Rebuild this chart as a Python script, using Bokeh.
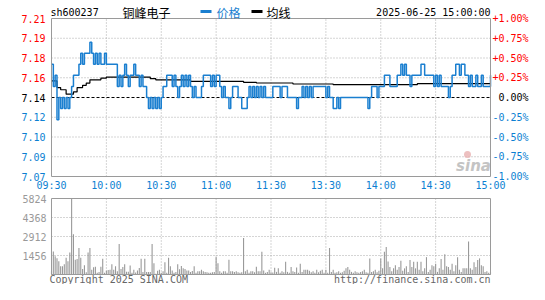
from bokeh.plotting import figure
from bokeh.models import Range1d
from bokeh.layouts import column
from bokeh.embed import file_html
from bokeh.resources import INLINE
from bokeh.core.properties import value
import numpy as np

# ---------------- data ----------------
CODE = "sh600237"
NAME = "铜峰电子"
DATETIME = "2025-06-25 15:00:00"
LEGEND_PRICE = "价格"
LEGEND_AVG = "均线"
PREV_CLOSE = 7.14

TIME_TICKS = [0, 30, 60, 90, 120, 150, 180, 210, 240]
TIME_LABELS = ["09:30", "10:00", "10:30", "11:00", "11:30", "13:30", "14:00", "14:30", "15:00"]

PCT_STEPS = [-4, -3, -2, -1, 0, 1, 2, 3, 4]          # multiples of 0.25 %
PRICE_TICK_LABELS = ["7.07", "7.09", "7.10", "7.12", "7.14", "7.16", "7.18", "7.19", "7.21"]
PCT_TICK_LABELS = ["-1.00%", "-0.75%", "-0.50%", "-0.25%", "0.00%", "+0.25%", "+0.50%", "+0.75%", "+1.00%"]

PRICE = [
    7.17, 7.15, 7.16, 7.12, 7.14, 7.13, 7.14, 7.13, 7.14, 7.13,
    7.14, 7.15, 7.16, 7.16, 7.16, 7.17, 7.18, 7.17, 7.18, 7.18,
    7.18, 7.19, 7.18, 7.17, 7.18, 7.17, 7.18, 7.17, 7.17, 7.18,
    7.17, 7.17, 7.17, 7.17, 7.17, 7.17, 7.15, 7.16, 7.15, 7.16,
    7.17, 7.16, 7.15, 7.16, 7.16, 7.17, 7.16, 7.16, 7.15, 7.16,
    7.15, 7.15, 7.14, 7.13, 7.14, 7.13, 7.14, 7.13, 7.14, 7.13,
    7.14, 7.15, 7.15, 7.16, 7.16, 7.16, 7.15, 7.16, 7.15, 7.14,
    7.15, 7.16, 7.15, 7.16, 7.15, 7.16, 7.15, 7.14, 7.15, 7.14,
    7.14, 7.14, 7.15, 7.16, 7.16, 7.16, 7.16, 7.15, 7.16, 7.15,
    7.16, 7.16, 7.15, 7.14, 7.15, 7.14, 7.14, 7.13, 7.14, 7.15,
    7.15, 7.15, 7.14, 7.14, 7.13, 7.13, 7.13, 7.14, 7.15, 7.14,
    7.15, 7.14, 7.15, 7.14, 7.15, 7.14, 7.15, 7.14, 7.14, 7.14,
    7.14, 7.15, 7.15, 7.15, 7.15, 7.14, 7.15, 7.15, 7.15, 7.14,
    7.14, 7.14, 7.14, 7.14, 7.13, 7.14, 7.14, 7.15, 7.14, 7.15,
    7.14, 7.15, 7.14, 7.15, 7.15, 7.15, 7.15, 7.15, 7.15, 7.15,
    7.14, 7.15, 7.14, 7.14, 7.13, 7.13, 7.14, 7.13, 7.14, 7.14,
    7.14, 7.14, 7.14, 7.14, 7.14, 7.14, 7.14, 7.14, 7.14, 7.14,
    7.14, 7.14, 7.14, 7.13, 7.14, 7.15, 7.15, 7.15, 7.14, 7.15,
    7.15, 7.15, 7.16, 7.16, 7.16, 7.15, 7.15, 7.15, 7.15, 7.16,
    7.16, 7.17, 7.16, 7.17, 7.16, 7.16, 7.15, 7.16, 7.16, 7.16,
    7.16, 7.16, 7.17, 7.17, 7.16, 7.16, 7.16, 7.16, 7.16, 7.15,
    7.16, 7.15, 7.16, 7.15, 7.15, 7.15, 7.15, 7.14, 7.15, 7.16,
    7.16, 7.17, 7.17, 7.16, 7.17, 7.17, 7.16, 7.16, 7.15, 7.16,
    7.15, 7.15, 7.16, 7.15, 7.15, 7.16, 7.15, 7.15, 7.15, 7.15, 7.16,
]

# average line, read as held levels (value, number of minutes)
AVG_LEVELS = [7.155, 7.149, 7.147, 7.143, 7.145, 7.149, 7.151, 7.153, 7.156, 7.1575,
              7.1585, 7.157, 7.156, 7.1546, 7.1537, 7.1531, 7.1522, 7.1516, 7.1525]
AVG_COUNTS = [3, 2, 3, 4, 2, 3, 2, 2, 6, 3,
              24, 3, 19, 29, 7, 20, 22, 46, 41]

VOLUME = [
    245, 1760, 1400, 1250, 1010, 640, 640, 780, 1290, 1010,
    1690, 5824, 3090, 1130, 1180, 2040, 1290, 430, 710, 175,
    1690, 2040, 360, 550, 590, 130, 200, 590, 1200, 130,
    290, 340, 360, 780, 360, 640, 245, 2340, 430, 570,
    780, 220, 220, 690, 130, 360, 150, 310, 500, 1200,
    200, 1200, 200, 200, 200, 2340, 870, 60, 290, 360,
    130, 245, 940, 130, 1290, 640, 310, 130, 200, 780,
    410, 660, 480, 430, 310, 310, 200, 270, 640, 130,
    245, 245, 360, 245, 200, 175, 130, 130, 175, 200,
    1340, 870, 245, 130, 245, 245, 130, 1130, 245, 245,
    200, 245, 175, 130, 175, 2800, 245, 360, 130, 245,
    245, 175, 590, 245, 245, 1750, 300, 130, 200, 360,
    175, 150, 510, 200, 470, 130, 245, 175, 980, 200,
    130, 580, 245, 200, 535, 130, 815, 200, 360, 360,
    360, 290, 175, 245, 130, 360, 175, 290, 360, 130,
    360, 130, 2030, 200, 360, 130, 175, 245, 130, 175,
    290, 470, 580, 360, 200, 130, 245, 175, 130, 200,
    245, 360, 175, 130, 1235, 200, 245, 360, 175, 290,
    1235, 470, 1750, 2100, 1000, 580, 245, 470, 700, 360,
    580, 1050, 290, 470, 640, 200, 1120, 580, 980, 470,
    980, 360, 980, 245, 470, 1330, 200, 360, 700, 640,
    815, 200, 470, 1190, 360, 1560, 640, 580, 360, 815,
    245, 700, 1330, 360, 200, 470, 470, 470, 2520, 470,
    360, 930, 580, 1120, 1235, 700, 630, 200, 245, 130, 175,
]
VOL_TICKS = [1456, 2912, 4368, 5824]
VOL_TICK_LABELS = ["1456", "2912", "4368", "5824"]
VOL_MAX = 5824
COPYRIGHT = "Copyright 2025 SINA.COM"
SITE = "http://finance.sina.com.cn"
WATERMARK = "sina"

assert len(PRICE) == 241 and len(VOLUME) == 241 and sum(AVG_COUNTS) == 241

# ---------------- styles / layout ----------------
BLUE = "#1a7fd0"
LABEL_BLUE = "#0c7fd2"
RED = "#ff0000"
GRID = "#aaaaaa"
FRAME = "#9a9a9a"
VOL_COLOR = "#999999"
MONO = "DejaVu Sans Mono"
CJK = "Noto Sans CJK SC"

W = 529
H1, H2 = 190, 94
PX_L, PX_R = 51, 490          # panel left / right (canvas px)
P_TOP, P_BOT = 18, 176        # price panel top / bottom (canvas px)
V_TOP, V_BOT = 8, 84          # volume panel top / bottom (px within lower canvas)

idx = np.arange(len(PRICE))
avg = np.repeat(AVG_LEVELS, AVG_COUNTS)
lo = PREV_CLOSE * 0.99
hi = PREV_CLOSE * 1.01
levels = [PREV_CLOSE * (1 + k * 0.0025) for k in PCT_STEPS]
level_colors = [LABEL_BLUE if k < 0 else ("black" if k == 0 else RED) for k in PCT_STEPS]
N = TIME_TICKS[-1]

kx = (PX_R - PX_L) / N
x_range = Range1d(-PX_L / kx, N + (W - PX_R) / kx)
def X(px):
    return (px - PX_L) / kx

ky = (P_BOT - P_TOP) / (hi - lo)
y1 = Range1d(lo - (H1 - P_BOT) / ky, hi + P_TOP / ky)
def Y1(px):
    return y1.end - px / ky

kv = (V_BOT - V_TOP) / VOL_MAX
y2 = Range1d(-(H2 - V_BOT) / kv, VOL_MAX + V_TOP / kv)
def Y2(px):
    return y2.end - px / kv

def base_fig(h, yr):
    f = figure(width=W, height=h, x_range=x_range, y_range=yr, min_border=0,
               output_backend="svg", toolbar_location=None)
    f.xaxis.visible = False
    f.yaxis.visible = False
    f.grid.visible = False
    f.outline_line_color = None
    f.background_fill_color = "white"
    f.border_fill_color = "white"
    return f

mono = dict(text_font=value(MONO), text_font_size=value("10px"), text_baseline="middle")

# ---------------- price panel ----------------
p = base_fig(H1, y1)
inner_t = TIME_TICKS[1:-1]
p.segment(x0=inner_t, x1=inner_t, y0=[lo] * len(inner_t), y1=[hi] * len(inner_t),
          line_color=GRID, line_dash="1 2", line_width=1)
grid_lv = [lv for k, lv in zip(PCT_STEPS, levels) if k not in (-4, 0, 4)]
p.segment(x0=[0] * len(grid_lv), x1=[N] * len(grid_lv), y0=grid_lv, y1=grid_lv,
          line_color=GRID, line_dash="1 2", line_width=1)
p.segment(x0=[0], x1=[N], y0=[PREV_CLOSE], y1=[PREV_CLOSE], line_color="black",
          line_dash="3 2", line_width=1)

p.text(x=[X(473)], y=[Y1(165)], text=[WATERMARK], text_color="#c4c4c4",
       text_font=value("DejaVu Sans"), text_font_style="bold italic",
       text_font_size=value("15px"), text_align="center", text_baseline="middle")
p.scatter(x=[X(467)], y=[Y1(154)], size=7, fill_color="#e8b0b0", line_color=None, alpha=0.8)

p.step(x=idx, y=avg, mode="after", line_color="black", line_width=1.2)
p.step(x=idx, y=PRICE, mode="after", line_color=BLUE, line_width=1.5)

p.quad(left=[0], right=[N], bottom=[lo], top=[hi], fill_color=None, line_color=FRAME, line_width=1)

# axis texts
p.text(x=[X(45)] * len(levels), y=levels, text=PRICE_TICK_LABELS, text_color=level_colors,
       text_align="right", **mono)
p.text(x=[X(528)] * len(levels), y=levels, text=PCT_TICK_LABELS, text_color=level_colors,
       text_align="right", **mono)
p.text(x=TIME_TICKS, y=[Y1(185)] * len(TIME_TICKS), text=TIME_LABELS, text_color=LABEL_BLUE,
       text_align="center", **mono)

# header
hy = Y1(11.5)
p.text(x=[X(50)], y=[hy], text=[CODE], text_color="black", text_align="left", **mono)
p.text(x=[X(122)], y=[hy], text=[NAME], text_color="black", text_align="left",
       text_font=value(CJK), text_font_size=value("12px"), text_baseline="middle")
p.segment(x0=[X(200)], x1=[X(211)], y0=[Y1(11)], y1=[Y1(11)], line_color=BLUE, line_width=3)
p.text(x=[X(216)], y=[hy], text=[LEGEND_PRICE], text_color=BLUE, text_align="left",
       text_font=value(CJK), text_font_size=value("12px"), text_baseline="middle")
p.segment(x0=[X(251)], x1=[X(262)], y0=[Y1(11)], y1=[Y1(11)], line_color="black", line_width=3)
p.text(x=[X(266)], y=[hy], text=[LEGEND_AVG], text_color="black", text_align="left",
       text_font=value(CJK), text_font_size=value("12px"), text_baseline="middle")
p.text(x=[N], y=[hy], text=[DATETIME], text_color="black", text_align="right", **mono)

# ---------------- volume panel ----------------
v = base_fig(H2, y2)
v.segment(x0=inner_t, x1=inner_t, y0=[0] * len(inner_t), y1=[VOL_MAX] * len(inner_t),
          line_color=GRID, line_dash="1 2", line_width=1)
vg = VOL_TICKS[:-1]
v.segment(x0=[0] * len(vg), x1=[N] * len(vg), y0=vg, y1=vg,
          line_color=GRID, line_dash="1 2", line_width=1)
v.vbar(x=idx, top=VOLUME, width=0.6, fill_color=VOL_COLOR, line_color=None)
v.quad(left=[0], right=[N], bottom=[0], top=[VOL_MAX], fill_color=None, line_color=FRAME, line_width=1)

v.text(x=[X(46)] * len(VOL_TICKS), y=VOL_TICKS, text=VOL_TICK_LABELS, text_color="#999999",
       text_align="right", **mono)
v.text(x=[X(49)], y=[Y2(89)], text=[COPYRIGHT], text_color="#666666", text_align="left", **mono)
v.text(x=[N], y=[Y2(89)], text=[SITE], text_color="#666666", text_align="right", **mono)

layout = column(p, v, spacing=0)
open("out.html", "w").write(file_html(layout, INLINE))
